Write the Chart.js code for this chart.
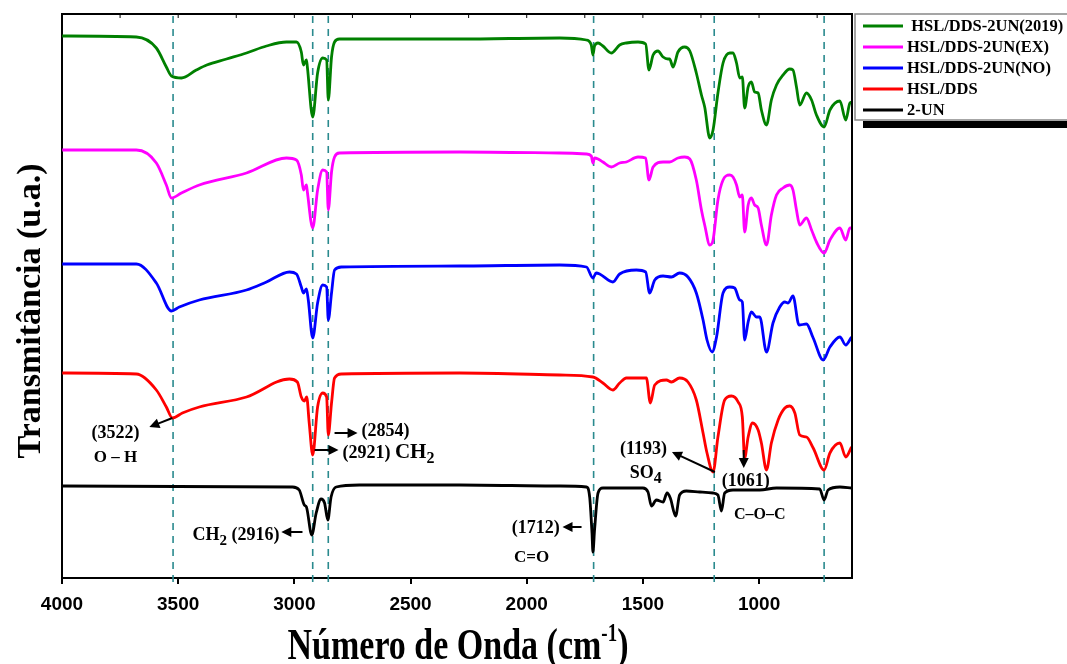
<!DOCTYPE html>
<html>
<head>
<meta charset="utf-8">
<script src="https://cdn.jsdelivr.net/npm/chart.js@4"></script>
<style>
  html, body { margin: 0; padding: 0; background: #fff; }
  #wrap { width: 1067px; height: 664px; position: relative; }
</style>
</head>
<body>
<div id="wrap"><canvas id="chart" width="1067" height="664"></canvas></div>
<script>
// wavenumbers (cm-1) and transmittance (a.u., stacked)
const wn2019 = [3999,3680,3594,3551,3529,3486,3422,3377,3292,3206,3120,3034,2991,2970,2961,2948,2944,2921,2900,2878,2861,2854,2840,2827,2806,2289,1858,1743,1722,1715,1708,1693,1672,1636,1600,1571,1521,1488,1474,1456,1435,1413,1392,1385,1370,1349,1320,1298,1270,1248,1234,1212,1198,1177,1155,1126,1112,1097,1083,1072,1062,1047,1033,1019,1004,990,968,947,925,897,868,854,839,825,796,774,753,720,695,652,627,609,600];
const tr2019 = [542,541,530,511,502,500,508,513,519,525,532,536,536,526,513,518,511,461,505,520,518,478,521,536,539,539,540,538,533,523,532,535,532,525,533,535,536,534,508,523,527,521,519,519,511,526,531,527,505,483,471,440,448,485,515,525,525,515,500,501,470,491,496,486,485,468,453,478,493,503,509,508,491,473,485,478,463,451,468,477,458,475,476];

const wnEX = [3999,3680,3594,3551,3529,3486,3409,3206,3034,2991,2970,2961,2948,2944,2921,2900,2878,2861,2854,2840,2827,2806,2289,1858,1743,1722,1715,1708,1693,1672,1636,1600,1571,1521,1488,1474,1456,1413,1385,1349,1320,1298,1270,1248,1234,1212,1198,1177,1155,1126,1112,1097,1083,1072,1062,1047,1033,1019,1004,990,968,947,925,897,868,854,839,825,796,774,753,720,695,652,627,609,600];
const trEX = [428,428,415,393,380,385,393,405,420,418,403,388,393,386,350,388,408,406,368,406,421,425,426,425,424,422,415,420,419,416,411,415,416,421,420,398,411,416,416,420,421,419,398,368,353,333,338,378,398,403,401,393,381,383,346,373,380,373,370,353,333,363,383,390,393,388,368,353,360,348,336,325,338,350,338,350,350];

const wnNO = [3999,3680,3594,3529,3495,3409,3206,3120,3021,2991,2970,2961,2948,2940,2921,2900,2878,2861,2854,2840,2827,2797,2289,1858,1743,1715,1701,1686,1629,1600,1528,1488,1471,1449,1413,1377,1342,1306,1270,1241,1224,1202,1183,1155,1126,1105,1083,1072,1062,1047,1033,1011,997,968,940,911,889,875,854,828,796,767,724,695,652,627,602];
const trNO = [314,314,295,267,271,278,288,296,306,304,291,285,289,278,240,275,293,291,258,285,308,311,312,313,311,300,305,304,296,304,308,306,285,298,302,301,305,301,285,258,238,226,241,285,291,290,278,276,238,256,266,261,261,226,255,271,276,275,282,253,254,240,218,231,241,233,241];

const wnDDS = [3999,3680,3594,3551,3525,3482,3409,3206,3021,2987,2970,2957,2947,2936,2921,2900,2878,2861,2854,2840,2827,2797,2289,1858,1715,1672,1629,1600,1571,1485,1468,1449,1399,1377,1342,1306,1270,1241,1224,1198,1177,1148,1119,1090,1072,1062,1047,1028,1004,990,968,947,918,889,868,846,825,796,767,720,695,652,627,602];
const trDDS = [205,204,188,171,160,165,171,181,199,196,181,177,181,155,123,171,185,181,143,175,200,204,205,203,201,195,188,195,200,200,175,193,198,196,200,196,178,145,125,106,141,178,182,176,161,120,141,155,148,135,108,135,158,170,172,165,143,141,130,108,125,135,121,131];

const wn2UN = [3999,3008,2979,2957,2948,2925,2906,2885,2870,2856,2842,2820,2720,2289,1858,1743,1729,1719,1715,1708,1693,1672,1500,1478,1463,1442,1413,1396,1382,1359,1342,1313,1255,1198,1177,1162,1148,1112,997,925,739,720,703,652,602];
const tr2UN = [92,91,88,73,71,43,65,79,75,58,81,91,93,93,92,91,81,45,26,48,85,90,90,86,72,78,76,85,80,62,83,87,86,85,83,67,85,88,88,90,89,78,88,91,90];

const seriesNames = [" HSL/DDS-2UN(2019)", "HSL/DDS-2UN(EX)", "HSL/DDS-2UN(NO)", "HSL/DDS", "2-UN"];
const seriesColors = ["#008000", "#ff00ff", "#0000ff", "#ff0000", "#000000"];
const markerLines = [3522, 2921, 2854, 1712, 1193, 720];
const xTicks = [4000, 3500, 3000, 2500, 2000, 1500, 1000];

const toPoints = (wn, tr) => wn.map((w, i) => ({ x: w, y: tr[i] }));
const allSeries = [
  toPoints(wn2019, tr2019),
  toPoints(wnEX, trEX),
  toPoints(wnNO, trNO),
  toPoints(wnDDS, trDDS),
  toPoints(wn2UN, tr2UN),
];

const SERIF = "'Liberation Serif', 'Times New Roman', serif";

// text made of runs, some of them sub/superscript
function drawRuns(ctx, runs, x, y, align) {
  let total = 0;
  runs.forEach((r) => {
    ctx.font = "bold " + r.size + "px " + SERIF;
    r.w = ctx.measureText(r.t).width;
    total += r.w;
  });
  let cx = align === "center" ? x - total / 2 : align === "right" ? x - total : x;
  ctx.textAlign = "left";
  ctx.textBaseline = "alphabetic";
  runs.forEach((r) => {
    ctx.font = "bold " + r.size + "px " + SERIF;
    ctx.fillText(r.t, cx, y + (r.dy || 0));
    cx += r.w;
  });
}

function arrow(ctx, x1, y1, x2, y2) {
  const a = Math.atan2(y2 - y1, x2 - x1);
  const len = 10, half = 5;
  ctx.beginPath();
  ctx.moveTo(x1, y1);
  ctx.lineTo(x2 - Math.cos(a) * len * 0.8, y2 - Math.sin(a) * len * 0.8);
  ctx.lineWidth = 2;
  ctx.stroke();
  ctx.beginPath();
  ctx.moveTo(x2, y2);
  ctx.lineTo(x2 - Math.cos(a) * len + Math.sin(a) * half, y2 - Math.sin(a) * len - Math.cos(a) * half);
  ctx.lineTo(x2 - Math.cos(a) * len - Math.sin(a) * half, y2 - Math.sin(a) * len + Math.cos(a) * half);
  ctx.closePath();
  ctx.fill();
}

const decorPlugin = {
  id: "decor",
  beforeDatasetsDraw(chart) {
    const { ctx, chartArea, scales } = chart;
    ctx.save();
    ctx.strokeStyle = "#2a8a8e";
    ctx.lineWidth = 1.6;
    ctx.setLineDash([7, 6]);
    markerLines.forEach((v) => {
      const x = scales.x.getPixelForValue(v);
      ctx.beginPath();
      ctx.moveTo(x, chartArea.top + 2);
      ctx.lineTo(x, chartArea.bottom + 6);
      ctx.stroke();
    });
    ctx.restore();
  },
  afterDraw(chart) {
    const { ctx, chartArea, scales } = chart;
    const X = (v) => scales.x.getPixelForValue(v);
    const Y = (v) => scales.y.getPixelForValue(v);
    ctx.save();

    // frame: top and right
    ctx.strokeStyle = "#000";
    ctx.lineWidth = 2;
    ctx.beginPath();
    ctx.moveTo(chartArea.left, chartArea.top);
    ctx.lineTo(chartArea.right, chartArea.top);
    ctx.lineTo(chartArea.right, chartArea.bottom);
    ctx.stroke();
    ctx.lineWidth = 1;
    for (let v = 3750; v > 600; v -= 250) {
      const x = X(v);
      ctx.beginPath();
      ctx.moveTo(x, chartArea.top);
      ctx.lineTo(x, chartArea.top + 4);
      ctx.stroke();
    }

    // annotations
    ctx.fillStyle = "#000";
    ctx.strokeStyle = "#000";
    drawRuns(ctx, [{ t: "(3522)", size: 18 }], X(3770), Y(140), "center");
    drawRuns(ctx, [{ t: "O – H", size: 17 }], X(3770), Y(116), "center");
    arrow(ctx, X(3525), Y(160), X(3624), Y(151));

    drawRuns(ctx, [{ t: "(2854)", size: 18 }], X(2711), Y(142), "left");
    arrow(ctx, X(2827), Y(145), X(2728), Y(145));
    drawRuns(ctx, [{ t: "(2921) ", size: 18 }, { t: "CH", size: 21 }, { t: "2", size: 16, dy: 5 }], X(2793), Y(120), "left");
    arrow(ctx, X(2913), Y(128), X(2810), Y(128));

    drawRuns(ctx, [{ t: "CH", size: 18 }, { t: "2", size: 15, dy: 5 }, { t: " (2916)", size: 18 }], X(3064), Y(38), "right");
    arrow(ctx, X(2965), Y(46), X(3056), Y(46));

    drawRuns(ctx, [{ t: "(1712)", size: 18 }], X(1858), Y(45), "right");
    arrow(ctx, X(1764), Y(51), X(1846), Y(51));
    drawRuns(ctx, [{ t: "C=O", size: 17 }], X(1979), Y(16), "center");

    drawRuns(ctx, [{ t: "(1193)", size: 18 }], X(1497), Y(124), "center");
    drawRuns(ctx, [{ t: "SO", size: 18 }, { t: "4", size: 16, dy: 5 }], X(1488), Y(100), "center");
    arrow(ctx, X(1190), Y(106), X(1375), Y(126));

    drawRuns(ctx, [{ t: "(1061)", size: 18 }], X(1057), Y(92), "center");
    arrow(ctx, X(1066), Y(128), X(1066), Y(110));
    drawRuns(ctx, [{ t: "C–O–C", size: 16 }], X(997), Y(59), "center");

    // axis titles
    ctx.save();
    ctx.translate(29, 311);
    ctx.rotate(-Math.PI / 2);
    drawRuns(ctx, [{ t: "Transmitância (u.a.)", size: 34 }], 0, 11, "center");
    ctx.restore();
    ctx.save();
    ctx.translate(458, 659);
    ctx.scale(1, 1.3);
    drawRuns(ctx, [
      { t: "Número de Onda (cm", size: 34 },
      { t: "-1", size: 19, dy: -14 },
      { t: ")", size: 34 },
    ], 0, 0, "center");
    ctx.restore();

    // legend
    const lx = 855, ly = 14;
    ctx.fillStyle = "#000";
    ctx.fillRect(863, 121, 1067 - 863, 7);
    ctx.fillStyle = "#fff";
    ctx.fillRect(lx, ly, 1067 - lx, 106);
    ctx.strokeStyle = "#888";
    ctx.lineWidth = 1.5;
    ctx.strokeRect(lx, ly, 1067 - lx + 5, 106);
    chart.data.datasets.forEach((ds, i) => {
      const yy = 26 + i * 21;
      ctx.strokeStyle = ds.borderColor;
      ctx.lineWidth = 3;
      ctx.beginPath();
      ctx.moveTo(863, yy);
      ctx.lineTo(903, yy);
      ctx.stroke();
      ctx.fillStyle = "#000";
      ctx.font = "bold 16.5px " + SERIF;
      ctx.textAlign = "left";
      ctx.textBaseline = "middle";
      ctx.fillText(ds.label, 907, yy + 1);
    });
    ctx.restore();
  },
};

new Chart(document.getElementById("chart").getContext("2d"), {
  type: "line",
  data: {
    datasets: allSeries.map((pts, i) => ({
      label: seriesNames[i],
      data: pts,
      borderColor: seriesColors[i],
      backgroundColor: seriesColors[i],
      borderWidth: 2.8,
      pointRadius: 0,
      cubicInterpolationMode: "monotone",
      borderJoinStyle: "round",
    })),
  },
  options: {
    responsive: false,
    animation: false,
    layout: { padding: { top: 14, right: 215, left: 0, bottom: 0 } },
    plugins: { legend: { display: false }, tooltip: { enabled: false } },
    scales: {
      x: {
        type: "linear",
        reverse: true,
        min: 600,
        max: 4000,
        afterBuildTicks: (scale) => {
          scale.ticks = xTicks.map((v) => ({ value: v }));
        },
        afterFit: (scale) => {
          scale.height = 86;
        },
        grid: { drawOnChartArea: false, drawTicks: true, tickLength: 6, color: "#000", lineWidth: 2 },
        border: { display: true, color: "#000", width: 2 },
        ticks: {
          color: "#000",
          padding: 9,
          maxRotation: 0,
          autoSkip: false,
          callback: (v) => String(v),
          font: { family: "'Liberation Sans', Arial, sans-serif", size: 19, weight: "bold" },
        },
      },
      y: {
        min: 0,
        max: 564,
        afterFit: (scale) => {
          scale.width = 62;
        },
        grid: { display: false },
        border: { display: true, color: "#000", width: 2 },
        ticks: { display: false },
      },
    },
  },
  plugins: [decorPlugin],
});
</script>
</body>
</html>
